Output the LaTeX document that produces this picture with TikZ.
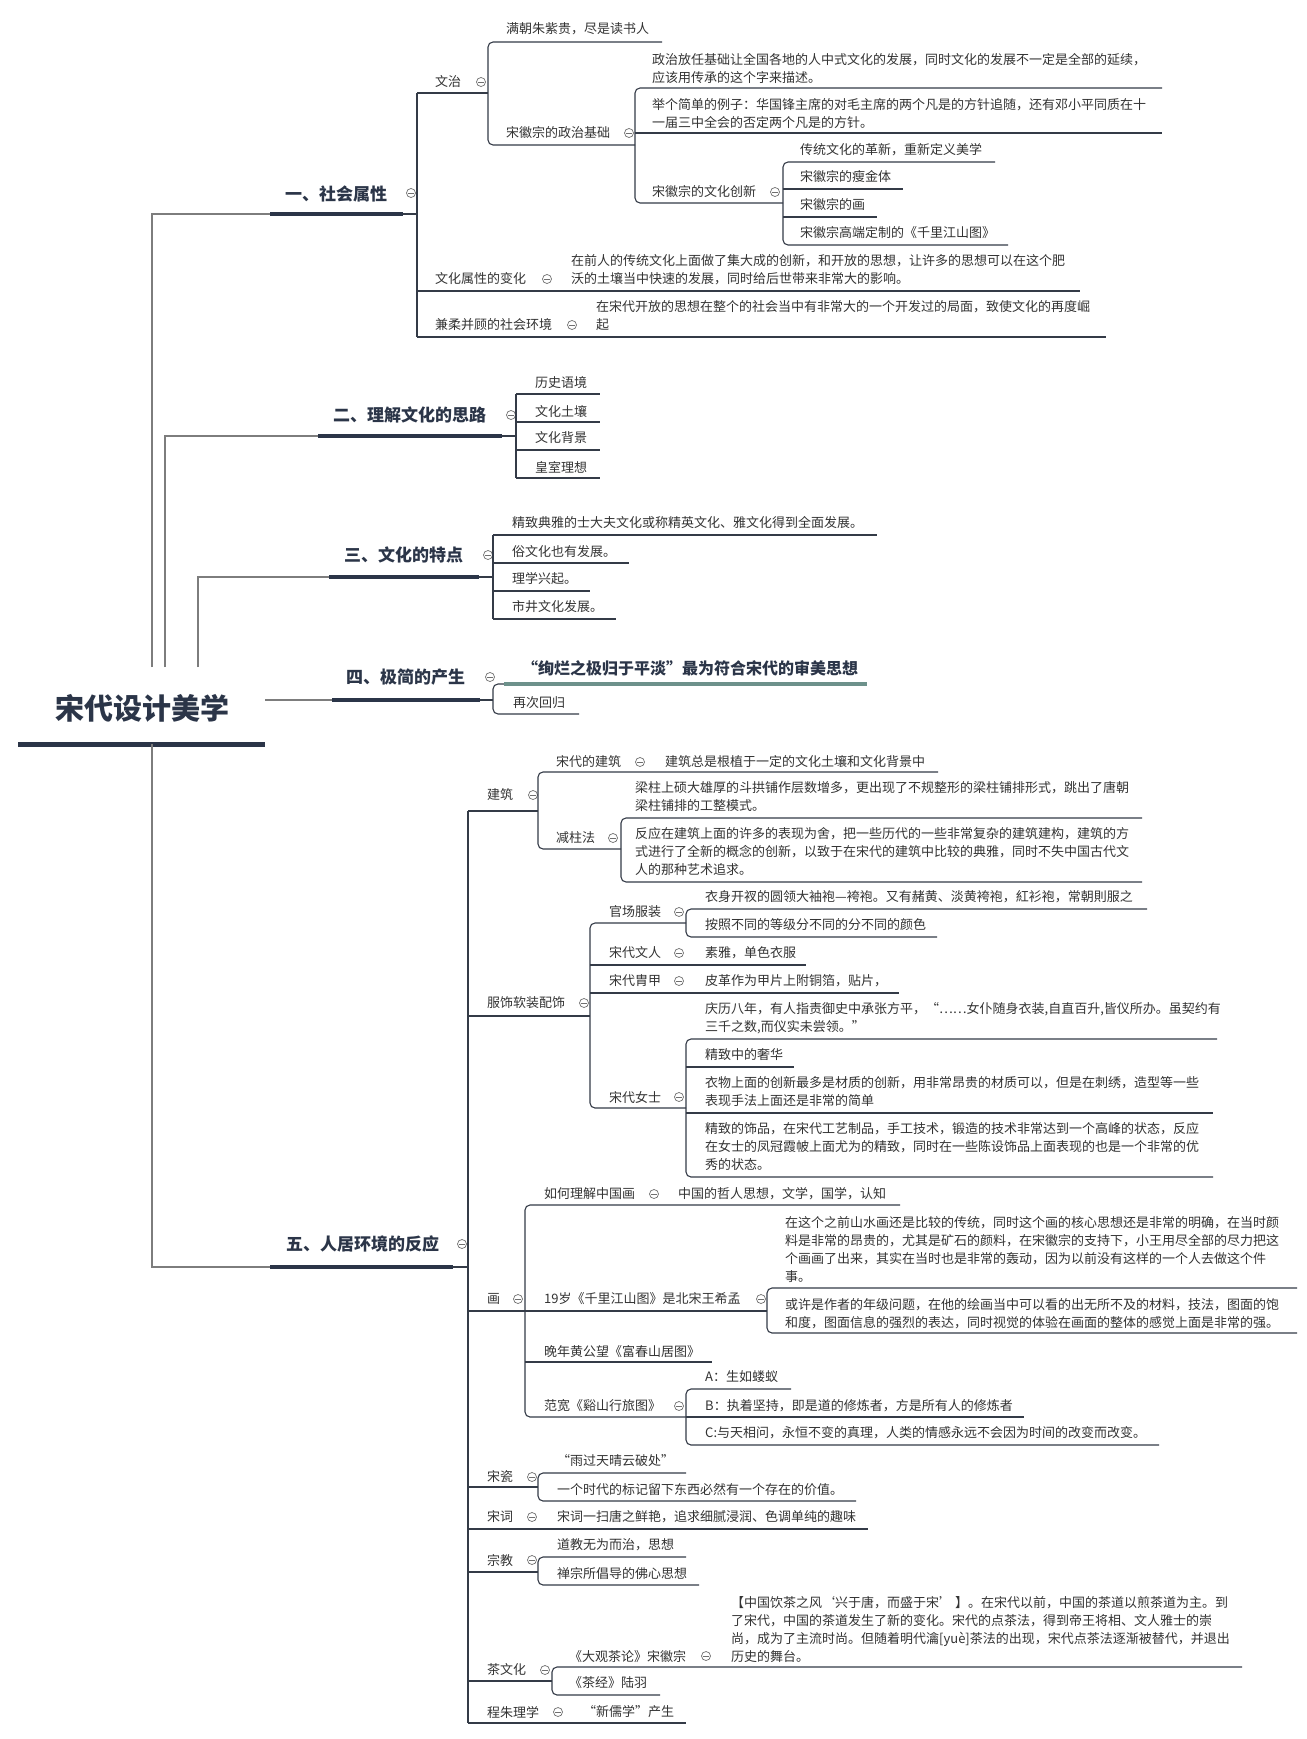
\documentclass[tikz,border=0pt]{standalone}
\usepackage{fontspec}
\setmainfont{Noto Sans CJK SC}
\definecolor{txtc}{HTML}{333333}
\definecolor{lncol}{HTML}{343b47}
\definecolor{navyc}{HTML}{2b3548}
\definecolor{trkc}{HTML}{7d7d7d}
\definecolor{icnc}{HTML}{6f6f6f}
\definecolor{tealc}{HTML}{6d918b}
\tikzset{
 tx/.style={anchor=west,inner sep=0,text=txtc,align=left,font=\fontsize{13}{18}\selectfont},
 hd/.style={anchor=west,inner sep=0,text=navyc,font=\fontsize{17}{20}\selectfont\bfseries},
 ic/.style={circle,draw=icnc,line width=0.7,minimum size=9,inner sep=0,
   path picture={\draw[icnc,line width=0.7]([xshift=-2.6pt]path picture bounding box.center)--([xshift=2.6pt]path picture bounding box.center);}},
 ln/.style={draw=lncol,line width=1.1},
 rln/.style={draw=lncol,line width=1.1,rounded corners=5},
 trunk/.style={draw=trkc,line width=1.6},
 hdline/.style={draw=navyc,line width=4},
}
\newcommand\T[3]{\node[tx] (#1) at (#2) {#3};}
\newcommand\I[2]{\node[ic] (#1) at (#2) {};}
\begin{document}
\begin{tikzpicture}[x=1pt,y=-1pt]
\fill[white] (0,0) rectangle (1306,1739);
\useasboundingbox (0,0) rectangle (1306,1739);

% ---------- root ----------
\node[inner sep=0,text=navyc,font=\fontsize{29}{32}\selectfont\bfseries] (root) at (142,708) {宋代设计美学};
\draw[draw=navyc,line width=5] (18,744) -- (265,744);

% trunks
\draw[trunk] (152,667) -- (152,214) -- (270,214);
\draw[trunk] (165,667) -- (165,436) -- (318,436);
\draw[trunk] (198,667) -- (198,577) -- (329,577);
\draw[trunk] (265,700) -- (332,700);
\draw[trunk] (152,744) -- (152,1267) -- (270,1267);

% ---------- 一 ----------
\node[hd] (h1) at (285,194) {一、社会属性};
\I{h1c}{411,193}
\draw[hdline] (270,214) -- (403,214);
\draw[ln] (403,214) -- (417,214);
\draw[ln] (417,93) -- (417,337);
\draw[ln] (417,93) -- (488,93);
\T{wz}{435,82}{文治}
\I{wzc}{481,82}
\draw[rln] (662,42) -- (488,42) -- (488,145) -- (635,145);
\T{wz1}{506,29}{满朝朱紫贵，尽是读书人}
\T{wz2}{506,133}{宋徽宗的政治基础}
\I{wz2c}{629,133}
\draw[rln] (1162,88) -- (635,88) -- (635,203) -- (783,203);
\T{zz1}{652,68.5}{政治放任基础让全国各地的人中式文化的发展，同时文化的发展不一定是全部的延续，\\应该用传承的这个字来描述。}
\draw[ln] (635,133) -- (1162,133);
\T{zz2}{652,113.5}{举个简单的例子：华国锋主席的对毛主席的两个凡是的方针追随，还有邓小平同质在十\\一届三中全会的否定两个凡是的方针。}
\T{zz3}{652,192}{宋徽宗的文化创新}
\I{zz3c}{775,192}
\draw[rln] (995,162) -- (783,162) -- (783,245) -- (1008,245);
\T{cx1}{800,150}{传统文化的革新，重新定义美学}
\draw[ln] (783,189) -- (903,189);
\T{cx2}{800,177}{宋徽宗的瘦金体}
\draw[ln] (783,217) -- (877,217);
\T{cx3}{800,205}{宋徽宗的画}
\T{cx4}{800,233}{宋徽宗高端定制的《千里江山图》}
\draw[ln] (417,291) -- (1080,291);
\T{wh}{435,279}{文化属性的变化}
\I{whc}{547,279}
\T{wh1}{571,270}{在前人的传统文化上面做了集大成的创新，和开放的思想，让许多的思想可以在这个肥\\沃的土壤当中快速的发展，同时给后世带来非常大的影响。}
\draw[ln] (417,337) -- (1106,337);
\T{jr}{435,325}{兼柔并顾的社会环境}
\I{jrc}{572,325}
\T{jr1}{596,316}{在宋代开放的思想在整个的社会当中有非常大的一个开发过的局面，致使文化的再度崛\\起}

% ---------- 二 ----------
\node[hd] (h2) at (333,415) {二、理解文化的思路};
\I{h2c}{511,415}
\draw[hdline] (318,436) -- (502,436);
\draw[ln] (502,436) -- (516,436);
\draw[ln] (516,394) -- (516,478);
\foreach \yy in {394,422,450,478} \draw[ln] (516,\yy) -- (600,\yy);
\T{e1}{535,383}{历史语境}
\T{e2}{535,411}{文化土壤}
\T{e3}{535,438}{文化背景}
\T{e4}{535,467}{皇室理想}

% ---------- 三 ----------
\node[hd] (h3) at (344,555) {三、文化的特点};
\I{h3c}{488,555}
\draw[hdline] (329,577) -- (479,577);
\draw[ln] (479,577) -- (493,577);
\draw[ln] (493,535) -- (493,619);
\draw[ln] (493,535) -- (877,535);
\draw[ln] (493,563) -- (629,563);
\draw[ln] (493,591) -- (590,591);
\draw[ln] (493,619) -- (616,619);
\T{s1}{512,523}{精致典雅的士大夫文化或称精英文化、雅文化得到全面发展。}
\T{s2}{512,552}{俗文化也有发展。}
\T{s3}{512,579}{理学兴起。}
\T{s4}{512,607}{市井文化发展。}

% ---------- 四 ----------
\node[hd] (h4) at (346,677) {四、极简的产生};
\I{h4c}{490,677}
\draw[hdline] (332,700) -- (480,700);
\draw[ln] (480,700) -- (493,700);
\draw[rln] (504,684) -- (493,684) -- (493,714) -- (579,714);
\draw[draw=tealc,line width=3.5] (504,684) -- (867,684);
\node[anchor=west,inner sep=0,text=navyc,font=\fontsize{16}{18}\selectfont\bfseries] (f1) at (522,668) {“绚烂之极归于平淡”最为符合宋代的审美思想};
\T{f2}{513,703}{再次回归}

% ---------- 五 ----------
\node[hd] (h5) at (286,1244) {五、人居环境的反应};
\I{h5c}{462,1244}
\draw[hdline] (270,1267) -- (453,1267);
\draw[ln] (453,1267) -- (468,1267);
\draw[ln] (468,811) -- (468,1723);

% 建筑
\draw[ln] (468,811) -- (538,811);
\T{jz}{487,795}{建筑}
\I{jzc}{533,795}
\draw[rln] (938,772) -- (538,772) -- (538,849) -- (621,849);
\T{jz1}{556,762}{宋代的建筑}
\I{jz1c}{640,762}
\T{jz1a}{665,762}{建筑总是根植于一定的文化土壤和文化背景中}
\T{jz2}{556,838}{减柱法}
\I{jz2c}{613,838}
\draw[rln] (1142,818) -- (621,818) -- (621,882) -- (1142,882);
\T{jz2a}{635,796.5}{梁柱上硕大雄厚的斗拱铺作层数增多，更出现了不规整形的梁柱铺排形式，跳出了唐朝\\梁柱铺排的工整模式。}
\T{jz2b}{635,851.5}{反应在建筑上面的许多的表现为舍，把一些历代的一些非常复杂的建筑建构，建筑的方\\式进行了全新的概念的创新，以致于在宋代的建筑中比较的典雅，同时不失中国古代文\\人的那种艺术追求。}

% 服饰软装配饰
\draw[ln] (468,1016) -- (590,1016);
\T{fs}{487,1003}{服饰软装配饰}
\I{fsc}{584,1003}
\draw[rln] (686,923) -- (590,923) -- (590,1108) -- (686,1108);
\T{gc}{609,912}{官场服装}
\I{gcc}{679,912}
\draw[rln] (1147,909) -- (686,909) -- (686,937) -- (937,937);
\T{gc1}{705,897}{衣身开衩的圆领大袖袍—袴袍。又有赭黄、淡黄袴袍，紅衫袍，常朝則服之}
\T{gc2}{705,925}{按照不同的等级分不同的分不同的颜色}
\draw[ln] (590,965) -- (806,965);
\T{wr}{609,953}{宋代文人}
\I{wrc}{679,953}
\T{wr1}{705,953}{素雅，单色衣服}
\draw[ln] (590,993) -- (899,993);
\T{zj}{609,981}{宋代胄甲}
\I{zjc}{679,981}
\T{zj1}{705,981}{皮革作为甲片上附铜箔，贴片，}
\T{ns}{609,1097}{宋代女士}
\I{nsc}{679,1097}
\draw[rln] (1217,1039) -- (686,1039) -- (686,1177) -- (1213,1177);
\T{ns1}{705,1018}{庆历八年，有人指责御史中承张方平，“……女仆随身衣装,自直百升,皆仪所办。虽契约有\\三千之数,而仪实未尝领。”}
\draw[ln] (686,1067) -- (794,1067);
\T{ns2}{705,1055}{精致中的奢华}
\draw[ln] (686,1113) -- (1213,1113);
\T{ns3}{705,1092}{衣物上面的创新最多是材质的创新，用非常昂贵的材质可以，但是在刺绣，造型等一些\\表现手法上面还是非常的简单}
\T{ns4}{705,1147}{精致的饰品，在宋代工艺制品，手工技术，锻造的技术非常达到一个高峰的状态，反应\\在女士的凤冠霞帔上面尤为的精致，同时在一些陈设饰品上面表现的也是一个非常的优\\秀的状态。}

% 画
\draw[ln] (468,1311) -- (525,1311);
\T{hh}{487,1299}{画}
\I{hhc}{518,1299}
\draw[rln] (900,1205) -- (525,1205) -- (525,1417) -- (686,1417);
\T{hh1}{544,1194}{如何理解中国画}
\I{hh1c}{654,1194}
\T{hh1a}{678,1194}{中国的哲人思想，文学，国学，认知}
\draw[ln] (525,1311) -- (767,1311);
\T{hh2}{544,1299}{19岁《千里江山图》是北宋王希孟}
\I{hh2c}{761,1299}
\draw[rln] (1297,1288) -- (767,1288) -- (767,1333) -- (1297,1333);
\T{hh2a}{785,1249.5}{在这个之前山水画还是比较的传统，同时这个画的核心思想还是非常的明确，在当时颜\\料是非常的昂贵的，尤其是矿石的颜料，在宋徽宗的支持下，小王用尽全部的尽力把这\\个画画了出来，其实在当时也是非常的轰动，因为以前没有这样的一个人去做这个件\\事。}
\T{hh2b}{785,1313.5}{或许是作者的年级问题，在他的绘画当中可以看的出无所不及的材料，技法，图面的饱\\和度，图面信息的强烈的表达，同时视觉的体验在画面的整体的感觉上面是非常的强。}
\draw[ln] (525,1362) -- (712,1362);
\T{hh3}{544,1352}{晚年黄公望《富春山居图》}
\T{hh4}{544,1406}{范宽《谿山行旅图》}
\I{hh4c}{679,1406}
\draw[rln] (791,1389) -- (686,1389) -- (686,1445) -- (1159,1445);
\T{hh4a}{705,1377}{A：生如蝼蚁}
\draw[ln] (686,1417) -- (1024,1417);
\T{hh4b}{705,1406}{B：执着坚持，即是道的修炼者，方是所有人的修炼者}
\T{hh4c2}{705,1433}{C:与天相问，永恒不变的真理，人类的情感永远不会因为时间的改变而改变。}

% 宋瓷
\draw[ln] (468,1487) -- (538,1487);
\T{sc}{487,1477}{宋瓷}
\I{scc}{532,1477}
\draw[rln] (686,1473) -- (538,1473) -- (538,1501) -- (856,1501);
\T{sc1}{557,1461}{“雨过天晴云破处”}
\T{sc2}{557,1490}{一个时代的标记留下东西必然有一个存在的价值。}

% 宋词
\draw[ln] (468,1529) -- (868,1529);
\T{sci}{487,1517}{宋词}
\I{scic}{532,1517}
\T{sci1}{557,1517}{宋词一扫唐之鲜艳，追求细腻浸润、色调单纯的趣味}

% 宗教
\draw[ln] (468,1572) -- (538,1572);
\T{zjiao}{487,1560}{宗教}
\I{zjiaoc}{532,1560}
\draw[rln] (686,1557) -- (538,1557) -- (538,1585) -- (699,1585);
\T{zjiao1}{557,1545}{道教无为而治，思想}
\T{zjiao2}{557,1573}{禅宗所倡导的佛心思想}

% 茶文化
\draw[ln] (468,1681) -- (552,1681);
\T{cw}{487,1670}{茶文化}
\I{cwc}{545,1670}
\draw[rln] (1242,1667) -- (552,1667) -- (552,1695) -- (660,1695);
\T{cw1}{569,1656}{《大观茶论》宋徽宗}
\I{cw1c}{706,1656}
\T{cw1a}{731,1629.5}{【中国饮茶之风‘兴于唐，而盛于宋’ 】。在宋代以前，中国的茶道以煎茶道为主。到\\了宋代，中国的茶道发生了新的变化。宋代的点茶法，得到帝王将相、文人雅士的崇\\尚，成为了主流时尚。但随着明代瀹[yuè]茶法的出现，宋代点茶法逐渐被替代，并退出\\历史的舞台。}
\T{cw2}{569,1683}{《茶经》陆羽}

% 程朱理学
\draw[ln] (468,1723) -- (686,1723);
\T{cz}{487,1712}{程朱理学}
\I{czc}{558,1712}
\T{cz1}{583,1712}{“新儒学”产生}
\end{tikzpicture}
\end{document}
